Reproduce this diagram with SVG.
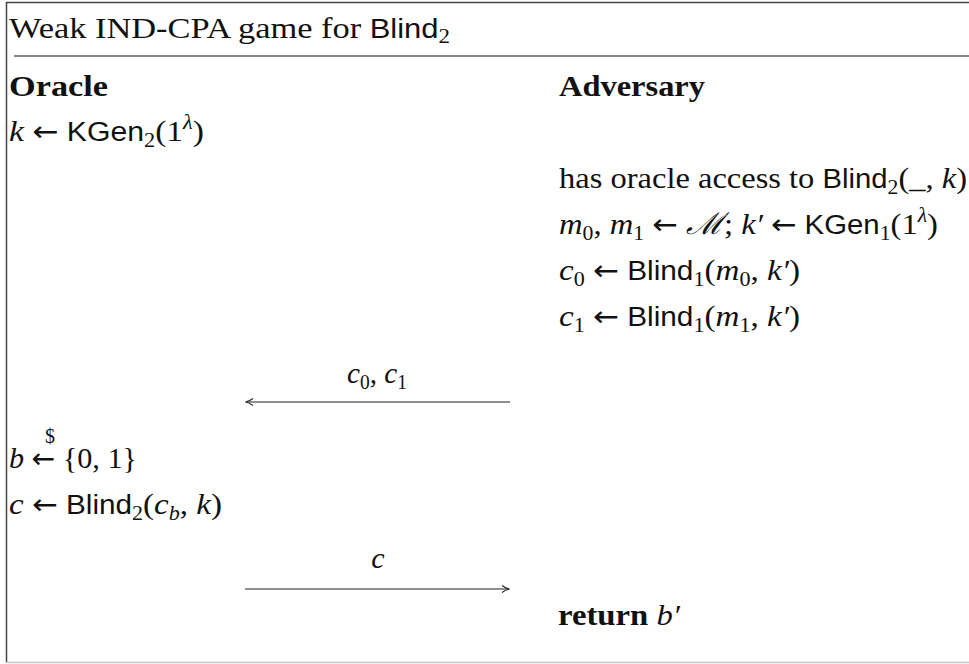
<svg xmlns="http://www.w3.org/2000/svg" width="969" height="664" viewBox="0 0 969 664">
<style>
text{font-family:"Liberation Serif","Times New Roman",serif;font-size:30px;fill:#111}
.it{font-style:italic}
.sf{font-family:"Liberation Sans",Arial,sans-serif;font-size:27px}
.bf{font-weight:bold}
.sm{font-size:20px}
.ar{font-family:"DejaVu Sans",sans-serif;font-size:28px}
.frame{stroke:#444;stroke-width:1.5;fill:none}
.conn{stroke:#222;stroke-width:1.2;fill:none}
</style>
<defs>
<marker id="ah" viewBox="0 0 10 10" refX="9" refY="5" markerWidth="10" markerHeight="10" markerUnits="userSpaceOnUse" orient="auto">
<path d="M2,1.5 Q6,4.5 9.5,5 Q6,5.5 2,8.5" fill="none" stroke="#222" stroke-width="1.1"/>
</marker>
</defs>
<g id="frame">
<line class="frame" x1="6" y1="2.5" x2="969" y2="2.5" stroke="#666"/>
<line class="frame" x1="6.5" y1="2" x2="6.5" y2="663"/>
<line x1="6" y1="662.5" x2="969" y2="662.5" stroke="#c8c8c8" stroke-width="1.5"/>
<line x1="14" y1="56" x2="969" y2="56" stroke="#111" stroke-width="1.2"/>
</g>
<g id="title">
<text x="9" y="38" textLength="441" lengthAdjust="spacingAndGlyphs">Weak IND-CPA game for <tspan class="sf">Blind</tspan><tspan class="sm" dy="5">2</tspan></text>
</g>
<g id="oracle">
<text x="9" y="96" class="bf" textLength="99" lengthAdjust="spacingAndGlyphs">Oracle</text>
<text x="9" y="141" textLength="195" lengthAdjust="spacingAndGlyphs"><tspan class="it">k</tspan> <tspan class="ar">←</tspan> <tspan class="sf">KGen</tspan><tspan class="sm" dy="6">2</tspan><tspan dy="-6">(1</tspan><tspan class="it sm" dy="-12">λ</tspan><tspan dy="12">)</tspan></text>
<text x="9" y="468" textLength="128" lengthAdjust="spacingAndGlyphs"><tspan class="it">b</tspan> <tspan class="ar">←</tspan> {0, 1}</text>
<text x="50" y="443" class="sm" text-anchor="middle">$</text>
<text x="9" y="514" textLength="213" lengthAdjust="spacingAndGlyphs"><tspan class="it">c</tspan> <tspan class="ar">←</tspan> <tspan class="sf">Blind</tspan><tspan class="sm" dy="6">2</tspan><tspan dy="-6">(</tspan><tspan class="it">c</tspan><tspan class="it sm" dy="6">b</tspan><tspan dy="-6">, </tspan><tspan class="it">k</tspan>)</text>
</g>
<g id="adversary">
<text x="559" y="96" class="bf" textLength="146" lengthAdjust="spacingAndGlyphs">Adversary</text>
<text x="559" y="188" textLength="408" lengthAdjust="spacingAndGlyphs">has oracle access to  <tspan class="sf">Blind</tspan><tspan class="sm" dy="6">2</tspan><tspan dy="-6">(_, </tspan><tspan class="it">k</tspan>)</text>
<text x="559" y="234" textLength="379" lengthAdjust="spacingAndGlyphs"><tspan class="it">m</tspan><tspan class="sm" dy="6">0</tspan><tspan dy="-6">, </tspan><tspan class="it">m</tspan><tspan class="sm" dy="6">1</tspan><tspan dy="-6"> </tspan><tspan class="ar">←</tspan> <tspan class="it">ℳ</tspan>; <tspan class="it">k′</tspan> <tspan class="ar">←</tspan> <tspan class="sf">KGen</tspan><tspan class="sm" dy="6">1</tspan><tspan dy="-6">(1</tspan><tspan class="it sm" dy="-12">λ</tspan><tspan dy="12">)</tspan></text>
<text x="559" y="280" textLength="241" lengthAdjust="spacingAndGlyphs"><tspan class="it">c</tspan><tspan class="sm" dy="6">0</tspan><tspan dy="-6"> </tspan><tspan class="ar">←</tspan> <tspan class="sf">Blind</tspan><tspan class="sm" dy="6">1</tspan><tspan dy="-6">(</tspan><tspan class="it">m</tspan><tspan class="sm" dy="6">0</tspan><tspan dy="-6">, </tspan><tspan class="it">k′</tspan>)</text>
<text x="559" y="326" textLength="241" lengthAdjust="spacingAndGlyphs"><tspan class="it">c</tspan><tspan class="sm" dy="6">1</tspan><tspan dy="-6"> </tspan><tspan class="ar">←</tspan> <tspan class="sf">Blind</tspan><tspan class="sm" dy="6">1</tspan><tspan dy="-6">(</tspan><tspan class="it">m</tspan><tspan class="sm" dy="6">1</tspan><tspan dy="-6">, </tspan><tspan class="it">k′</tspan>)</text>
<text x="558" y="625" textLength="122" lengthAdjust="spacingAndGlyphs"><tspan class="bf">return</tspan> <tspan class="it">b′</tspan></text>
</g>
<g id="connectors">
<line class="conn" x1="510" y1="402" x2="246" y2="402" marker-end="url(#ah)"/>
<text x="347" y="383" textLength="60" lengthAdjust="spacingAndGlyphs"><tspan class="it">c</tspan><tspan class="sm" dy="6">0</tspan><tspan dy="-6">, </tspan><tspan class="it">c</tspan><tspan class="sm" dy="6">1</tspan></text>
<line class="conn" x1="245" y1="589" x2="509" y2="589" marker-end="url(#ah)"/>
<text x="378" y="568" class="it" text-anchor="middle">c</text>
</g>
</svg>
